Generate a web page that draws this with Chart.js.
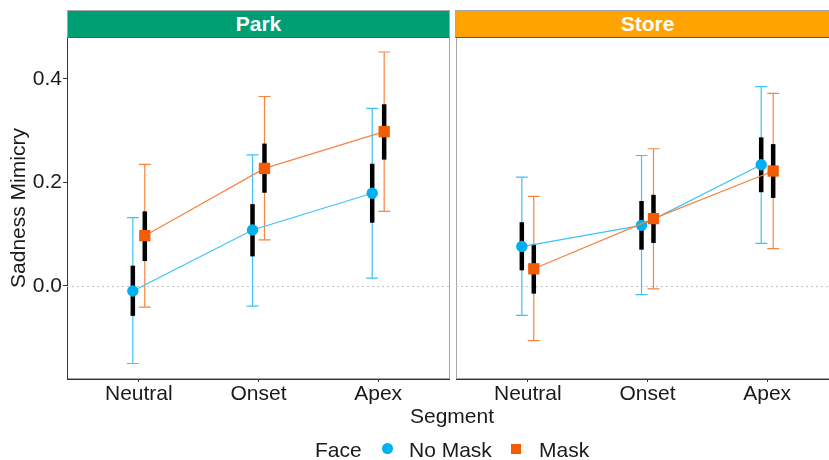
<!DOCTYPE html>
<html>
<head>
<meta charset="utf-8">
<script src="https://cdn.jsdelivr.net/npm/chart.js@4.4.1/dist/chart.umd.min.js"></script>
<style>
  html, body { margin: 0; padding: 0; background: #fff; }
  body { width: 829px; height: 460px; overflow: hidden; position: relative;
         font-family: "Liberation Sans", Arial, sans-serif; color: #1a1a1a; }
  canvas { position: absolute; top: 0; left: 0; }
  .strip { position: absolute; top: 10px; height: 28px; box-sizing: border-box;
           border-top: 1px solid #a6a6a6; border-bottom: 1px solid #5a5a5a;
           color: #fff; font-weight: bold; font-size: 21px; line-height: 26px;
           text-align: center; z-index: 2; }
  .txt { position: absolute; font-size: 21px; line-height: 24px; white-space: nowrap; }
</style>
</head>
<body>
<canvas id="parkChart" width="450" height="460"></canvas>
<canvas id="storeChart" width="839" height="460"></canvas>

<div class="strip" style="left:67px; width:383px; background:#009E73; border-left:1px solid #a6a6a6; border-right:1px solid #a6a6a6;">Park</div>
<div class="strip" style="left:455px; width:384px; background:#FFA300; border-left:1px solid #a6a6a6;">Store</div>

<div class="txt" style="left:452px; top:404px; transform:translateX(-50%);">Segment</div>

<div class="txt" style="left:315px; top:438px;">Face</div>
<div style="position:absolute; left:381.5px; top:443px; width:11px; height:11px; border-radius:50%; background:#00B0F0;"></div>
<div class="txt" style="left:409px; top:438px;">No Mask</div>
<div style="position:absolute; left:511px; top:444px; width:10px; height:10px; background:#F25C05;"></div>
<div class="txt" style="left:539px; top:438px;">Mask</div>

<script>
// Sadness mimicry by segment, face covering and location

const segments = ['Neutral', 'Onset', 'Apex'];
const yTicks = [0, 0.2, 0.4];

// Park
const parkNoMask = [-0.010, 0.108, 0.179];
const parkNoMaskCI = [[-0.150, 0.132], [-0.039, 0.253], [0.015, 0.343]];
const parkNoMaskSE = [[-0.058, 0.039], [0.057, 0.158], [0.122, 0.236]];

const parkMask = [0.097, 0.227, 0.298];
const parkMaskCI = [[-0.041, 0.235], [0.089, 0.366], [0.144, 0.452]];
const parkMaskSE = [[0.048, 0.144], [0.180, 0.275], [0.244, 0.351]];

// Store
const storeNoMask = [0.076, 0.117, 0.234];
const storeNoMaskCI = [[-0.057, 0.210], [-0.017, 0.252], [0.082, 0.385]];
const storeNoMaskSE = [[0.030, 0.123], [0.070, 0.164], [0.181, 0.287]];

const storeMask = [0.033, 0.130, 0.222];
const storeMaskCI = [[-0.106, 0.173], [-0.006, 0.265], [0.072, 0.372]];
const storeMaskSE = [[-0.015, 0.081], [0.083, 0.176], [0.170, 0.274]];

const FONT = { family: '"Liberation Sans", Arial, sans-serif', size: 21 };
const TEXT = '#1a1a1a';
const DODGE = 0.05;
const CAP = 0.05;

function makeSeries(label, means, ci, se, dodge, pointColor, lineColor, style, radius, order) {
    return {
        label,
        data: means.map((m, i) => ({ x: i + dodge, y: m })),
        ci,
        se,
        lineColor,
        order,
        showLine: true,
        borderColor: lineColor,
        borderWidth: 1.2,
        pointStyle: style,
        pointRadius: radius,
        pointHoverRadius: radius,
        pointBackgroundColor: pointColor,
        pointBorderWidth: 0
    };
}

// panel border, zero line and both kinds of error bars
const panelDecor = {
    id: 'panelDecor',
    beforeDraw(chart) {
        const { ctx, chartArea: a } = chart;
        ctx.save();
        ctx.strokeStyle = '#a6a6a6';
        ctx.lineWidth = 1;
        ctx.strokeRect(a.left + 0.5, a.top + 0.5, a.right - a.left - 1, a.bottom - a.top - 1);
        ctx.restore();
    },
    beforeDatasetsDraw(chart) {
        const { ctx, chartArea: a, scales: { x, y } } = chart;
        ctx.save();

        // dotted reference line at zero
        const y0 = Math.round(y.getPixelForValue(0)) + 0.5;
        ctx.strokeStyle = '#c4c4c4';
        ctx.lineWidth = 1;
        ctx.setLineDash([2, 3]);
        ctx.beginPath();
        ctx.moveTo(a.left, y0);
        ctx.lineTo(a.right, y0);
        ctx.stroke();
        ctx.setLineDash([]);

        // thin coloured whiskers
        chart.data.datasets.forEach(ds => {
            ctx.strokeStyle = ds.lineColor;
            ctx.lineWidth = 1.2;
            ds.data.forEach((p, i) => {
                const px = x.getPixelForValue(p.x);
                const x1 = x.getPixelForValue(p.x - CAP);
                const x2 = x.getPixelForValue(p.x + CAP);
                const lo = y.getPixelForValue(ds.ci[i][0]);
                const hi = y.getPixelForValue(ds.ci[i][1]);
                ctx.beginPath();
                ctx.moveTo(px, lo);
                ctx.lineTo(px, hi);
                ctx.moveTo(x1, lo);
                ctx.lineTo(x2, lo);
                ctx.moveTo(x1, hi);
                ctx.lineTo(x2, hi);
                ctx.stroke();
            });
        });

        // thick black inner bars
        ctx.strokeStyle = '#000';
        ctx.lineWidth = 4.5;
        chart.data.datasets.forEach(ds => {
            ds.data.forEach((p, i) => {
                const px = x.getPixelForValue(p.x);
                ctx.beginPath();
                ctx.moveTo(px, y.getPixelForValue(ds.se[i][0]));
                ctx.lineTo(px, y.getPixelForValue(ds.se[i][1]));
                ctx.stroke();
            });
        });
        ctx.restore();
    }
};

function makeChart(id, datasets, showY, padLeft) {
    return new Chart(document.getElementById(id), {
        type: 'scatter',
        data: { datasets },
        options: {
            responsive: false,
            animation: false,
            devicePixelRatio: 1,
            layout: { autoPadding: false, padding: { left: padLeft, top: 37, right: 0, bottom: 0 } },
            plugins: { legend: { display: false }, tooltip: { enabled: false } },
            scales: {
                x: {
                    type: 'linear',
                    min: -0.6,
                    max: 2.6,
                    afterBuildTicks: s => { s.ticks = segments.map((_, i) => ({ value: i })); },
                    afterFit: s => { s.height = 81; },
                    ticks: {
                        callback: v => segments[v],
                        font: FONT,
                        color: TEXT,
                        padding: 0,
                        maxRotation: 0,
                        autoSkip: false
                    },
                    grid: { drawOnChartArea: false, drawTicks: true, tickLength: 3, color: '#333' },
                    border: { color: '#333', width: 1 }
                },
                y: {
                    display: showY,
                    min: -0.18,
                    max: 0.481,
                    afterBuildTicks: s => { s.ticks = yTicks.map(v => ({ value: v })); },
                    afterFit: s => { s.width = showY ? 67 : 0; },
                    ticks: { callback: v => v.toFixed(1), font: FONT, color: TEXT, padding: 1 },
                    grid: { drawOnChartArea: false, drawTicks: true, tickLength: 4, color: '#333' },
                    border: { color: '#333', width: 1 },
                    title: {
                        display: true,
                        text: 'Sadness Mimicry',
                        font: FONT,
                        color: TEXT,
                        padding: { top: 7, bottom: 0 }
                    }
                }
            }
        },
        plugins: [panelDecor]
    });
}

const BLUE = '#00B0F0', BLUE_LINE = '#3EC3F2';
const ORANGE = '#F25C05', ORANGE_LINE = '#F7843F';

makeChart('parkChart', [
    makeSeries('No Mask', parkNoMask, parkNoMaskCI, parkNoMaskSE, -DODGE, BLUE, BLUE_LINE, 'circle', 5.7, 1),
    makeSeries('Mask', parkMask, parkMaskCI, parkMaskSE, DODGE, ORANGE, ORANGE_LINE, 'rect', 8, 0)
], true, 0);

makeChart('storeChart', [
    makeSeries('No Mask', storeNoMask, storeNoMaskCI, storeNoMaskSE, -DODGE, BLUE, BLUE_LINE, 'circle', 5.7, 1),
    makeSeries('Mask', storeMask, storeMaskCI, storeMaskSE, DODGE, ORANGE, ORANGE_LINE, 'rect', 8, 0)
], false, 456);
</script>
</body>
</html>
